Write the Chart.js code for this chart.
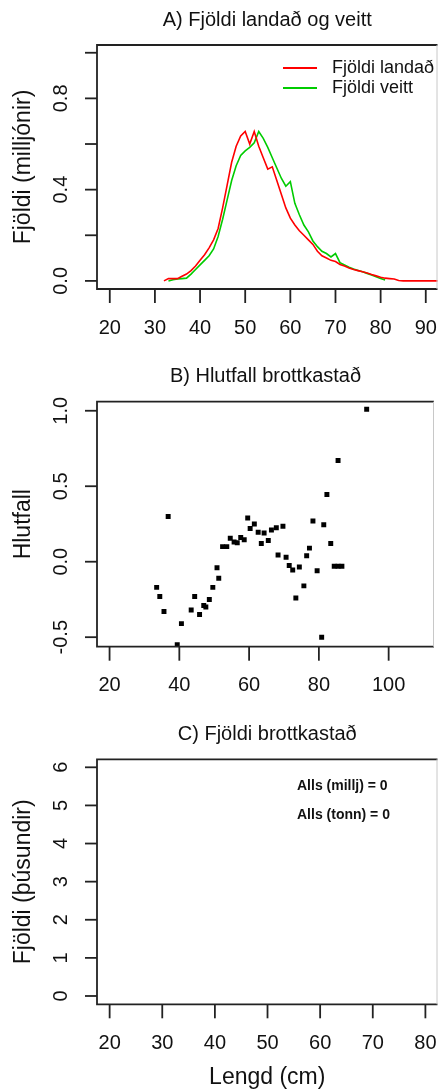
<!DOCTYPE html>
<html>
<head>
<meta charset="utf-8">
<script src="https://cdn.jsdelivr.net/npm/chart.js@4.4.1/dist/chart.umd.min.js"></script>
<style>
  html, body { margin: 0; padding: 0; background: #fff; overflow: hidden; }
  #wrap { position: relative; width: 438px; height: 1090px; }
  .panel { position: absolute; left: 0; width: 438px; }
</style>
</head>
<body>
<div id="wrap">
  <div class="panel" style="top:0;height:360px"><canvas id="chartA" width="438" height="360"></canvas></div>
  <div class="panel" style="top:360px;height:360px"><canvas id="chartB" width="438" height="360"></canvas></div>
  <div class="panel" style="top:720px;height:370px"><canvas id="chartC" width="438" height="370"></canvas></div>
</div>
<script>
// A) Fjöldi landað og veitt (milljónir) eftir lengd
var lengdLandad = [32, 33, 34, 35, 36, 37, 38, 39, 40, 41, 42, 43, 44, 45, 46, 47, 48, 49, 50, 51,
  52, 53, 54, 55, 56, 57, 58, 59, 60, 61, 62, 63, 64, 65, 66, 67, 68, 69, 70, 71,
  72, 73, 74, 75, 76, 77, 78, 79, 80, 81, 82, 83, 84, 85, 86, 87, 88, 89, 90, 91, 92, 93];
var fjoldiLandad = [0.000, 0.010, 0.010, 0.010, 0.020, 0.030, 0.045, 0.065, 0.090, 0.115, 0.145, 0.180, 0.230, 0.320, 0.420, 0.520, 0.590, 0.635, 0.655, 0.600,
  0.655, 0.590, 0.540, 0.490, 0.500, 0.440, 0.380, 0.320, 0.275, 0.245, 0.220, 0.200, 0.180, 0.160, 0.130, 0.110, 0.100, 0.090, 0.085, 0.072,
  0.065, 0.057, 0.050, 0.045, 0.040, 0.035, 0.028, 0.022, 0.016, 0.012, 0.010, 0.008, 0.002, 0.000, 0.000, 0.000, 0.000, 0.000, 0.000, 0.000, 0.000, 0.000];
var lengdVeitt = [33, 34, 35, 36, 37, 38, 39, 40, 41, 42, 43, 44, 45, 46, 47, 48, 49, 50, 51, 52,
  53, 54, 55, 56, 57, 58, 59, 60, 61, 62, 63, 64, 65, 66, 67, 68, 69, 70, 71, 72,
  73, 74, 75, 76, 77, 78, 79, 80, 81];
var fjoldiVeitt = [0.000, 0.005, 0.008, 0.010, 0.012, 0.030, 0.050, 0.070, 0.090, 0.110, 0.140, 0.195, 0.270, 0.355, 0.440, 0.505, 0.550, 0.570, 0.585, 0.605,
  0.655, 0.625, 0.585, 0.540, 0.495, 0.450, 0.415, 0.435, 0.340, 0.290, 0.245, 0.215, 0.175, 0.150, 0.130, 0.120, 0.105, 0.120, 0.080, 0.070,
  0.060, 0.052, 0.046, 0.040, 0.033, 0.026, 0.018, 0.010, 0.004];

// B) Hlutfall brottkastað
var lengdHlutfall = [33.5, 34.4, 35.6, 36.8, 39.4, 40.6, 43.4, 44.4, 45.8, 47.0, 47.6, 48.6, 49.6, 50.8, 51.3, 52.4, 53.6, 54.6, 55.7, 56.6,
  57.6, 58.6, 59.6, 60.3, 61.5, 62.6, 63.5, 64.3, 65.5, 66.4, 67.8, 68.3, 69.7, 70.6, 71.5, 72.5, 73.4, 74.4, 75.7, 76.5,
  77.3, 78.3, 79.5, 80.8, 81.4, 82.3, 83.4, 84.4, 85.5, 85.5, 86.6, 93.7];
var hlutfall = [-0.17, -0.23, -0.33, 0.30, -0.55, -0.41, -0.32, -0.23, -0.35, -0.29, -0.30, -0.25, -0.17, -0.04, -0.11, 0.10, 0.10, 0.155, 0.13, 0.125,
  0.16, 0.145, 0.29, 0.22, 0.25, 0.195, 0.12, 0.19, 0.14, 0.21, 0.225, 0.045, 0.235, 0.03, -0.025, -0.055, -0.24, -0.035, -0.16, 0.04,
  0.09, 0.27, -0.06, -0.50, 0.245, 0.445, 0.12, -0.03, -0.03, 0.67, -0.03, 1.01];

// C) Fjöldi brottkastað (engin gögn)
var lengdBrottkast = [];
var fjoldiBrottkast = [];
var allsMillj = 0;
var allsTonn = 0;

// ás-merkingar
var xTicksA = [20, 30, 40, 50, 60, 70, 80, 90];
var yTicksA = [0, 0.2, 0.4, 0.6, 0.8, 1.0];
var yLabelsA = ['0.0', '', '0.4', '', '0.8', ''];
var xTicksB = [20, 40, 60, 80, 100];
var yTicksB = [-0.5, 0, 0.5, 1.0];
var yLabelsB = ['-0.5', '0.0', '0.5', '1.0'];
var xTicksC = [20, 30, 40, 50, 60, 70, 80];
var yTicksC = [0, 1, 2, 3, 4, 5, 6];
var yLabelsC = ['0', '1', '2', '3', '4', '5', '6'];

var FONT = '"Liberation Sans", Arial, sans-serif';

function toXY(xs, ys) {
  return xs.map(function (x, i) { return { x: x, y: ys[i] }; });
}

// Teiknar ramma, ása og texta í R-stíl
var rAxes = {
  id: 'rAxes',
  afterDraw: function (chart, args, o) {
    var ctx = chart.ctx, a = chart.chartArea;
    var sx = chart.scales.x, sy = chart.scales.y;
    ctx.save();

    // rammi
    ctx.strokeStyle = '#222';
    ctx.lineWidth = 1.8;
    ctx.beginPath();
    ctx.moveTo(a.right, a.top);
    ctx.lineTo(a.left, a.top);
    ctx.lineTo(a.left, a.bottom);
    ctx.lineTo(a.right, a.bottom);
    ctx.stroke();
    ctx.strokeStyle = '#c8c8c8';
    ctx.lineWidth = 1;
    ctx.beginPath();
    ctx.moveTo(a.right - 0.5, a.top);
    ctx.lineTo(a.right - 0.5, a.bottom);
    ctx.stroke();

    // x-ás
    ctx.strokeStyle = '#222';
    ctx.lineWidth = 1.8;
    ctx.fillStyle = '#111';
    ctx.font = '20px ' + FONT;
    ctx.textAlign = 'center';
    ctx.textBaseline = 'middle';
    o.xTicks.forEach(function (v) {
      var px = sx.getPixelForValue(v);
      ctx.beginPath();
      ctx.moveTo(px, a.bottom);
      ctx.lineTo(px, a.bottom + 14);
      ctx.stroke();
      ctx.fillText(String(v), px, a.bottom + 39);
    });

    // y-ás (lóðréttar merkingar)
    o.yTicks.forEach(function (v, i) {
      var py = sy.getPixelForValue(v);
      ctx.beginPath();
      ctx.moveTo(a.left, py);
      ctx.lineTo(a.left - 12, py);
      ctx.stroke();
      if (o.yLabels[i]) {
        ctx.save();
        ctx.translate(a.left - 36, py);
        ctx.rotate(-Math.PI / 2);
        ctx.fillText(o.yLabels[i], 0, 0);
        ctx.restore();
      }
    });

    // titill
    ctx.font = '20px ' + FONT;
    ctx.fillText(o.title, (a.left + a.right) / 2, a.top - 25);

    // ásaheiti
    ctx.font = '23px ' + FONT;
    ctx.save();
    ctx.translate(24, (a.top + a.bottom) / 2);
    ctx.rotate(-Math.PI / 2);
    ctx.fillText(o.yTitle, 0, 0);
    ctx.restore();
    if (o.xTitle) {
      ctx.fillText(o.xTitle, (a.left + a.right) / 2, a.bottom + 73);
    }

    // skýringar
    if (o.legend) {
      ctx.font = '18px ' + FONT;
      ctx.textAlign = 'left';
      chart.data.datasets.forEach(function (ds, i) {
        var y = a.top + 23 + i * 20;
        ctx.strokeStyle = ds.borderColor;
        ctx.lineWidth = 1.8;
        ctx.beginPath();
        ctx.moveTo(283, y);
        ctx.lineTo(317, y);
        ctx.stroke();
        ctx.fillText(ds.label, 332, y);
      });
    }
    if (o.notes) {
      ctx.font = 'bold 14px ' + FONT;
      ctx.textAlign = 'left';
      o.notes.forEach(function (t, i) {
        ctx.fillText(t, 297, a.top + 27 + i * 28.5);
      });
    }
    ctx.restore();
  }
};

function baseOptions(pad, xr, yr, plug) {
  return {
    responsive: false,
    animation: false,
    devicePixelRatio: 1,
    layout: { padding: pad },
    scales: {
      x: { type: 'linear', display: false, min: xr[0], max: xr[1] },
      y: { type: 'linear', display: false, min: yr[0], max: yr[1] }
    },
    plugins: {
      legend: { display: false },
      tooltip: { enabled: false },
      rAxes: plug
    }
  };
}

new Chart(document.getElementById('chartA'), {
  type: 'line',
  data: {
    datasets: [
      { label: 'Fjöldi landað', data: toXY(lengdLandad, fjoldiLandad), borderColor: '#ff0000', borderWidth: 1.6, pointRadius: 0, tension: 0 },
      { label: 'Fjöldi veitt', data: toXY(lengdVeitt, fjoldiVeitt), borderColor: '#00cc00', borderWidth: 1.6, pointRadius: 0, tension: 0 }
    ]
  },
  options: baseOptions({ left: 97, top: 45, right: 0.5, bottom: 71 }, [17.17, 92.6], [-0.0355, 1.034], {
    title: 'A) Fjöldi landað og veitt', yTitle: 'Fjöldi (milljónir)',
    xTicks: xTicksA, yTicks: yTicksA, yLabels: yLabelsA, legend: true
  }),
  plugins: [rAxes]
});

new Chart(document.getElementById('chartB'), {
  type: 'scatter',
  data: {
    datasets: [
      { label: 'Hlutfall', data: toXY(lengdHlutfall, hlutfall), backgroundColor: '#000', borderWidth: 0, pointStyle: 'rect', pointRadius: 3.5 }
    ]
  },
  options: baseOptions({ left: 97, top: 41.7, right: 0.5, bottom: 73.3 }, [16.4, 113], [-0.563, 1.06], {
    title: 'B) Hlutfall brottkastað', yTitle: 'Hlutfall',
    xTicks: xTicksB, yTicks: yTicksB, yLabels: yLabelsB
  }),
  plugins: [rAxes]
});

new Chart(document.getElementById('chartC'), {
  type: 'line',
  data: {
    datasets: [
      { label: 'Fjöldi brottkastað', data: toXY(lengdBrottkast, fjoldiBrottkast), borderColor: '#000', borderWidth: 1.6, pointRadius: 0 }
    ]
  },
  options: baseOptions({ left: 97, top: 39.3, right: 0.5, bottom: 85.7 }, [17.6, 82.3], [-0.218, 6.21], {
    title: 'C) Fjöldi brottkastað', yTitle: 'Fjöldi (þúsundir)', xTitle: 'Lengd (cm)',
    xTicks: xTicksC, yTicks: yTicksC, yLabels: yLabelsC,
    notes: ['Alls (millj) = ' + allsMillj, 'Alls (tonn) = ' + allsTonn]
  }),
  plugins: [rAxes]
});
</script>
</body>
</html>
